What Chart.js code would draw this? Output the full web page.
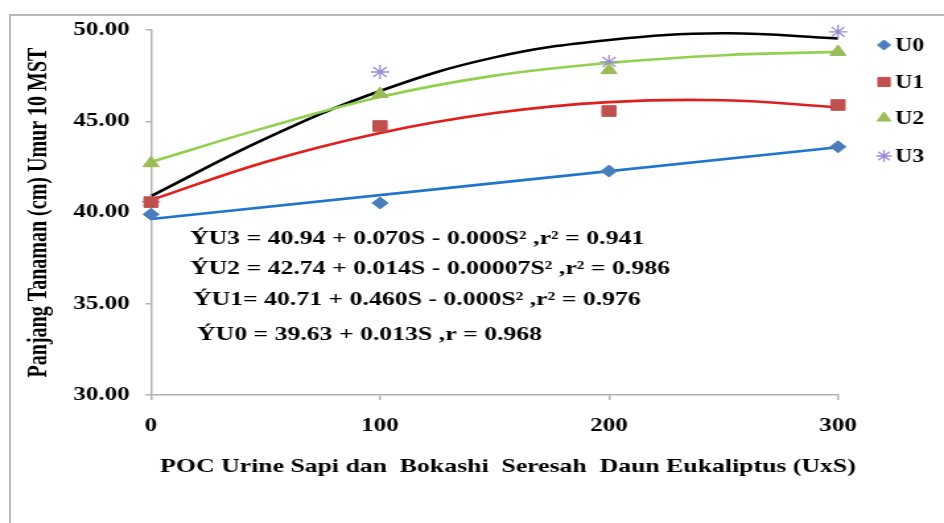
<!DOCTYPE html>
<html>
<head>
<meta charset="utf-8">
<script src="https://cdn.jsdelivr.net/npm/chart.js@4/dist/chart.umd.min.js"></script>
<style>
    html, body { margin: 0; padding: 0; background: #ffffff; overflow: hidden; }
    #frame { position: absolute; left: 9px; top: 14px; width: 980px; height: 580px; border: 2px solid #b9b9b9; }
    #c { position: absolute; left: 0; top: 0; transform-origin: 0 0; transform: scaleX(1.3203); }
</style>
</head>
<body>
<div id="frame"></div>
<canvas id="c" width="715" height="523"></canvas>
<script>
// observed points (tinggi tanaman, cm)
const doses = [0, 100, 200, 300];
const u0 = [39.90, 40.52, 42.27, 43.60];
const u1 = [40.57, 44.74, 45.56, 45.89];
const u2 = [42.70, 46.50, 47.80, 48.80];
const u3 = [40.60, 47.70, 48.25, 49.90];

// regression curves
const trendDoses = [0, 50, 100, 150, 200, 250, 300];
const trendU1 = [40.68, 42.77, 44.36, 45.45, 46.05, 46.15, 45.76];
const trendU2 = [42.77, 44.65, 46.33, 47.50, 48.20, 48.62, 48.80];
const trendU3 = [40.90, 44.05, 46.66, 48.50, 49.45, 49.82, 49.54];
const trendU0Doses = [0, 300];
const trendU0 = [39.64, 43.58];

const yTicks = [30, 35, 40, 45, 50];
const xTicks = [0, 100, 200, 300];

const seriesNames = ["U0", "U1", "U2", "U3"];
const equations = [
    "ÝU3 = 40.94 + 0.070S - 0.000S² ,r² = 0.941",
    "ÝU2 = 42.74 + 0.014S - 0.00007S² ,r² = 0.986",
    "ÝU1= 40.71 + 0.460S - 0.000S² ,r² = 0.976",
    "ÝU0 = 39.63 + 0.013S ,r = 0.968"
];
const xTitle = "POC Urine Sapi dan  Bokashi  Seresah  Daun Eukaliptus (UxS)";
const yTitle = "Panjang Tanaman (cm) Umur 10 MST";

const K = 944 / 715;           // canvas is stretched sideways like the original figure
const SERIF = '"Liberation Serif", "Times New Roman", serif';

const markerStyles = [
    { pointStyle: "rectRot", color: "#4a7ebb", radius: 6 },
    { pointStyle: "rect", color: "#c0504d", radius: 7.5 },
    { pointStyle: "triangle", color: "#9bbb59", radius: 7 },
    { pointStyle: "star", color: "#9a8bd4", radius: 7 }
];

function pairs(xs, ys) {
    return xs.map((x, i) => ({ x: x, y: ys[i] }));
}

function markerSet(name, values, idx) {
    const m = markerStyles[idx];
    return {
        label: name,
        data: pairs(doses, values),
        showLine: false,
        pointStyle: m.pointStyle,
        pointRadius: m.radius,
        backgroundColor: m.color,
        borderColor: m.color,
        pointBorderWidth: m.pointStyle === "star" ? 1.3 : 1,
        clip: false,
        order: 0
    };
}

function trendSet(name, xs, values, color) {
    return {
        label: name,
        data: pairs(xs, values),
        showLine: true,
        borderColor: color,
        borderWidth: 2.6,
        pointRadius: 0,
        tension: 0.4,
        clip: false,
        order: 1
    };
}

const textPlugin = {
    id: "figureText",
    afterDraw(chart) {
        const ctx = chart.ctx;
        ctx.save();
        ctx.fillStyle = "#000000";
        ctx.textBaseline = "middle";

        // regression equations
        ctx.font = "bold 19.5px " + SERIF;
        ctx.textAlign = "left";
        const eqX = [190, 190, 193, 197];
        const eqY = [239, 269, 300, 335];
        equations.forEach((t, i) => ctx.fillText(t, eqX[i] / K, eqY[i]));

        // x axis title
        ctx.textAlign = "center";
        ctx.fillText(xTitle, 508 / K, 467);

        // legend
        const legY = [45, 82, 118, 156];
        seriesNames.forEach((name, i) => {
            const m = markerStyles[i];
            ctx.fillStyle = m.color;
            ctx.strokeStyle = m.color;
            ctx.lineWidth = m.pointStyle === "star" ? 1.3 : 1;
            Chart.helpers.drawPoint(ctx, {
                pointStyle: m.pointStyle,
                radius: m.radius - 1,
                rotation: 0,
                borderWidth: ctx.lineWidth
            }, 884 / K, legY[i]);
            ctx.fillStyle = "#000000";
            ctx.font = "bold 18px " + SERIF;
            ctx.textAlign = "left";
            ctx.fillText(name, 895 / K, legY[i] + 1);
        });
        ctx.restore();
    }
};

const axisColor = "#b3b3b3";

new Chart(document.getElementById("c").getContext("2d"), {
    type: "scatter",
    data: {
        datasets: [
            markerSet(seriesNames[0], u0, 0),
            markerSet(seriesNames[1], u1, 1),
            markerSet(seriesNames[2], u2, 2),
            markerSet(seriesNames[3], u3, 3),
            trendSet("trend U0", trendU0Doses, trendU0, "#1f74cc"),
            trendSet("trend U1", trendDoses, trendU1, "#e01e1e"),
            trendSet("trend U2", trendDoses, trendU2, "#92d050"),
            trendSet("trend U3", trendDoses, trendU3, "#000000")
        ]
    },
    options: {
        responsive: false,
        devicePixelRatio: 1,
        animation: false,
        layout: { padding: { left: 0, top: 30, right: 715 - 838 / K, bottom: 0 } },
        plugins: { legend: { display: false }, tooltip: { enabled: false } },
        scales: {
            x: {
                type: "linear",
                min: xTicks[0],
                max: xTicks[xTicks.length - 1],
                afterBuildTicks: (s) => { s.ticks = xTicks.map(v => ({ value: v })); },
                afterFit: (s) => { s.height = 523 - 395; },
                border: { color: axisColor, width: 1.5 },
                grid: { drawOnChartArea: false, drawTicks: true, tickLength: 5, color: axisColor, lineWidth: 1.5 },
                ticks: { color: "#000000", padding: 15, maxRotation: 0, font: { family: SERIF, size: 19, weight: "bold" } }
            },
            y: {
                min: yTicks[0],
                max: yTicks[yTicks.length - 1],
                afterBuildTicks: (s) => { s.ticks = yTicks.map(v => ({ value: v })); },
                afterFit: (s) => { s.width = 151 / K; },
                border: { color: axisColor, width: 1.5 },
                grid: { drawOnChartArea: false, drawTicks: true, tickLength: 4, color: axisColor, lineWidth: 1.5 },
                ticks: {
                    color: "#000000",
                    padding: 12,
                    font: { family: SERIF, size: 19, weight: "bold" },
                    callback: (v) => Number(v).toFixed(2)
                },
                title: {
                    display: true,
                    text: yTitle,
                    color: "#000000",
                    padding: { top: 18, bottom: 0 },
                    font: { family: SERIF, size: 20, weight: "bold" }
                }
            }
        }
    },
    plugins: [textPlugin]
});
</script>
</body>
</html>
